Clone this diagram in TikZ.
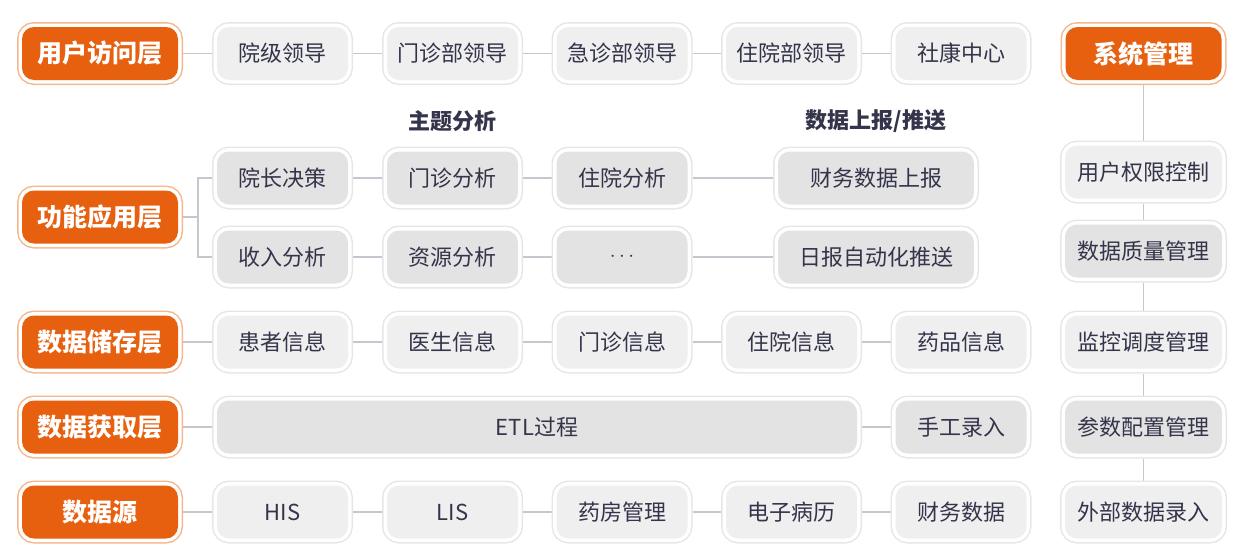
\documentclass[tikz,border=0pt]{standalone}
\usepackage{fontspec}
\setmainfont{Noto Sans CJK SC}
\usetikzlibrary{backgrounds}
\definecolor{orng}{HTML}{E6600F}
\definecolor{oborder}{HTML}{F5B78C}
\definecolor{gborder}{HTML}{E6E6E8}
\definecolor{glight}{HTML}{EFEFF0}
\definecolor{gdark}{HTML}{E3E3E4}
\definecolor{conn}{HTML}{C6C6CE}
\definecolor{txt}{HTML}{34344A}
\tikzset{
  box/.style={rounded corners=12pt, minimum height=53pt, minimum width=131pt, inner sep=0pt, outer sep=5pt,
    text=txt, font=\fontsize{22}{22}\selectfont,
    preaction={draw=gborder, line width=10pt}, preaction={draw=white, line width=7pt}},
  lt/.style={box, fill=glight},
  dk/.style={box, fill=gdark},
  layerbox/.style={rounded corners=12pt, minimum height=53pt, minimum width=156pt, inner sep=0pt, outer sep=5pt,
    fill=orng, text=white, font=\bfseries\fontsize{25}{25}\selectfont,
    preaction={draw=oborder, line width=10pt}, preaction={draw=white, line width=7pt}},
  hdr/.style={text=txt, font=\bfseries\fontsize{22}{22}\selectfont, inner sep=0pt},
  link/.style={draw=conn, line width=1.8pt},
}
\begin{document}
\begin{tikzpicture}[x=1pt, y=-1pt]
\useasboundingbox (0,0) rectangle (1245,557);
% layer labels
\node[layerbox] (L1) at (100,53.5) {用户访问层};
\node[layerbox] (L2) at (100,217) {功能应用层};
\node[layerbox] (L3) at (100,342) {数据储存层};
\node[layerbox] (L4) at (100,427) {数据获取层};
\node[layerbox] (L5) at (100,512) {数据源};
\node[layerbox] (S0) at (1143.5,53.5) {系统管理};
% row 1
\node[lt] (a1) at (282.5,53.5) {院级领导};
\node[lt] (a2) at (452.5,53.5) {门诊部领导};
\node[lt] (a3) at (622,53.5) {急诊部领导};
\node[lt] (a4) at (791.5,53.5) {住院部领导};
\node[lt] (a5) at (961,53.5) {社康中心};
% headers
\node[hdr] (h1) at (452.5,121) {主题分析};
\node[hdr] (h2) at (876,121) {数据上报/推送};
% row 2
\node[dk] (b1) at (282.5,178) {院长决策};
\node[dk] (b2) at (452.5,178) {门诊分析};
\node[dk] (b3) at (622,178) {住院分析};
\node[dk, minimum width=196pt] (b4) at (876,178) {财务数据上报};
\node[dk] (c1) at (282.5,257) {收入分析};
\node[dk] (c2) at (452.5,257) {资源分析};
\node[dk] (c3) at (622,257) {$\mathbf{\cdots}$};
\node[dk, minimum width=196pt] (c4) at (876,257) {日报自动化推送};
% row 3
\node[lt] (d1) at (282.5,342) {患者信息};
\node[lt] (d2) at (452.5,342) {医生信息};
\node[lt] (d3) at (622,342) {门诊信息};
\node[lt] (d4) at (791.5,342) {住院信息};
\node[lt] (d5) at (961,342) {药品信息};
% row 4
\node[dk, minimum width=640pt] (e1) at (537,427) {ETL过程};
\node[dk] (e2) at (961,427) {手工录入};
% row 5
\node[lt] (f1) at (282.5,512) {HIS};
\node[lt] (f2) at (452.5,512) {LIS};
\node[lt] (f3) at (622,512) {药房管理};
\node[lt] (f4) at (791.5,512) {电子病历};
\node[lt] (f5) at (961,512) {财务数据};
% right column
\node[lt, minimum width=157pt] (S1) at (1143.5,172) {用户权限控制};
\node[dk, minimum width=157pt] (S2) at (1143.5,251) {数据质量管理};
\node[lt, minimum width=157pt] (S3) at (1143.5,342) {监控调度管理};
\node[dk, minimum width=157pt] (S4) at (1143.5,427) {参数配置管理};
\node[lt, minimum width=157pt] (S5) at (1143.5,512) {外部数据录入};
\begin{scope}[on background layer]
  \draw[link] (L1) -- (a1) -- (a2) -- (a3) -- (a4) -- (a5);
  \draw[link] (L2.east) -- ++(15,0) coordinate (br) |- (b1.west);
  \draw[link] (br) |- (c1.west);
  \draw[link] (b1) -- (b2) -- (b3) -- (b4);
  \draw[link] (c1) -- (c2) -- (c3) -- (c4);
  \draw[link] (L3) -- (d1) -- (d2) -- (d3) -- (d4) -- (d5);
  \draw[link] (L4) -- (e1) -- (e2);
  \draw[link] (L5) -- (f1) -- (f2) -- (f3) -- (f4) -- (f5);
  \draw[link] (S0) -- (S1) -- (S2) -- (S3) -- (S4) -- (S5);
\end{scope}
\end{tikzpicture}
\end{document}
